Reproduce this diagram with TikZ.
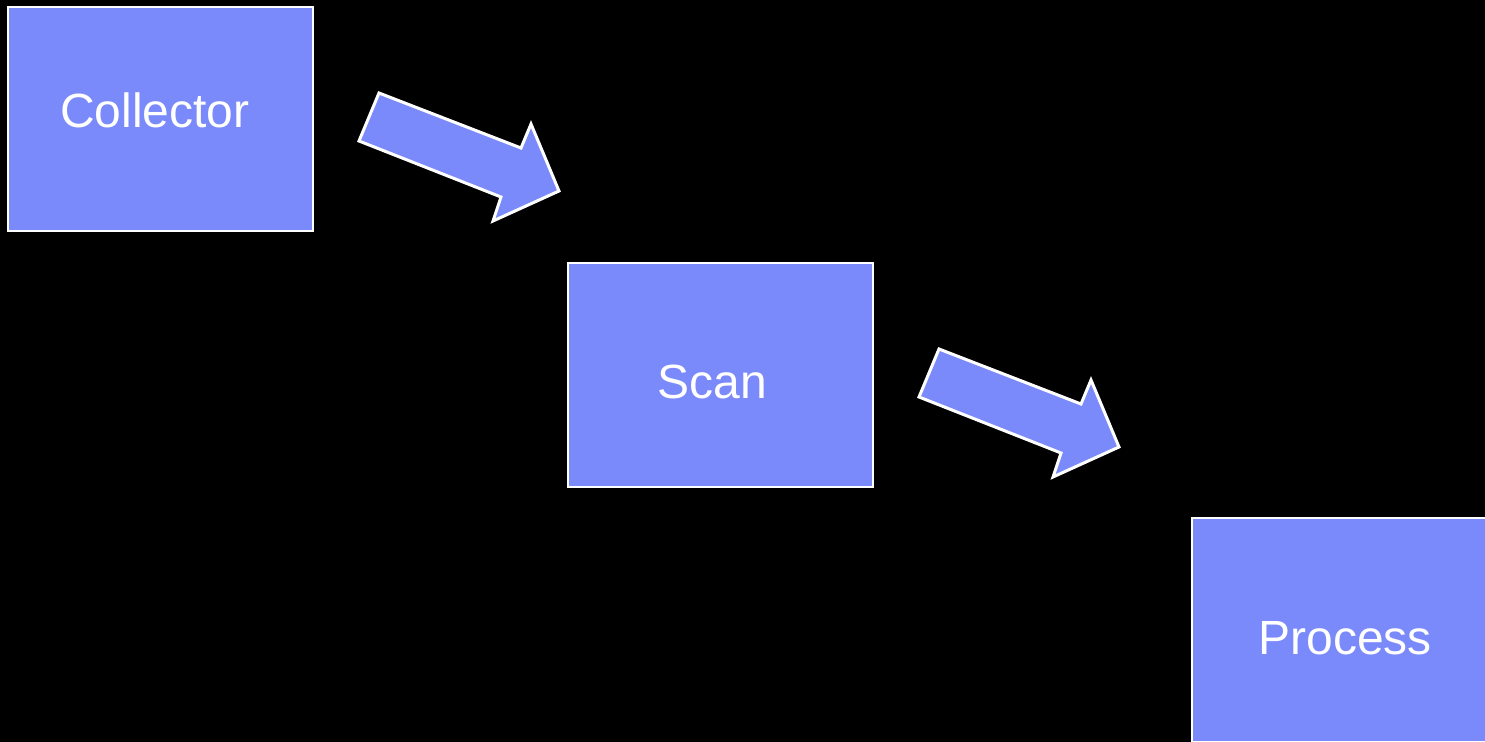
\documentclass[tikz,border=0pt]{standalone}
\usepackage{fontspec}
\setmainfont{Liberation Sans}
\usetikzlibrary{positioning}
\definecolor{boxblue}{RGB}{123,138,250}
\tikzset{
  box/.style = { draw = white, fill = boxblue, line width = 1pt, minimum width = 152.5pt, minimum height = 112pt, inner sep = 0pt },
  boxtext/.style = { text = white, anchor = base, inner sep = 0pt, font = \fontsize{24}{28}\selectfont },
  blockarrow/.pic = { \draw [draw = white, fill = boxblue, line width = 1.5pt] (10,-23.5) -- (152,31.5) -- (162,7.5) -- (190,74.5) -- (124,104.5) -- (132,80.5) -- (-10,24.5) -- cycle; }
}
\begin{document}
\begin{tikzpicture}[x = 0.5pt, y = -0.5pt]
  \fill [black] (0,0) rectangle (1485,742);
  \clip (0,0) rectangle (1485,742);
  \node [box] (collector) at (160.5,119) {};
  \node [box, below right = 15pt and 126.5pt of collector] (scan) {};
  \node [box, below right = 14.5pt and 158.5pt of scan] (process) {};
  \node [boxtext] (collectortxt) at ([shift = {(-5.5,9)}] collector.center) {Collector};
  \node [boxtext] (scantxt) at ([shift = {(-8,24)}] scan.center) {Scan};
  \node [boxtext] (processtxt) at ([shift = {(0.5,25)}] process.center) {Process};
  \pic at ([shift = {(55,-2.5)}] collector.east) {blockarrow};
  \pic at ([shift = {(55,-2.5)}] scan.east) {blockarrow};
\end{tikzpicture}
\end{document}
